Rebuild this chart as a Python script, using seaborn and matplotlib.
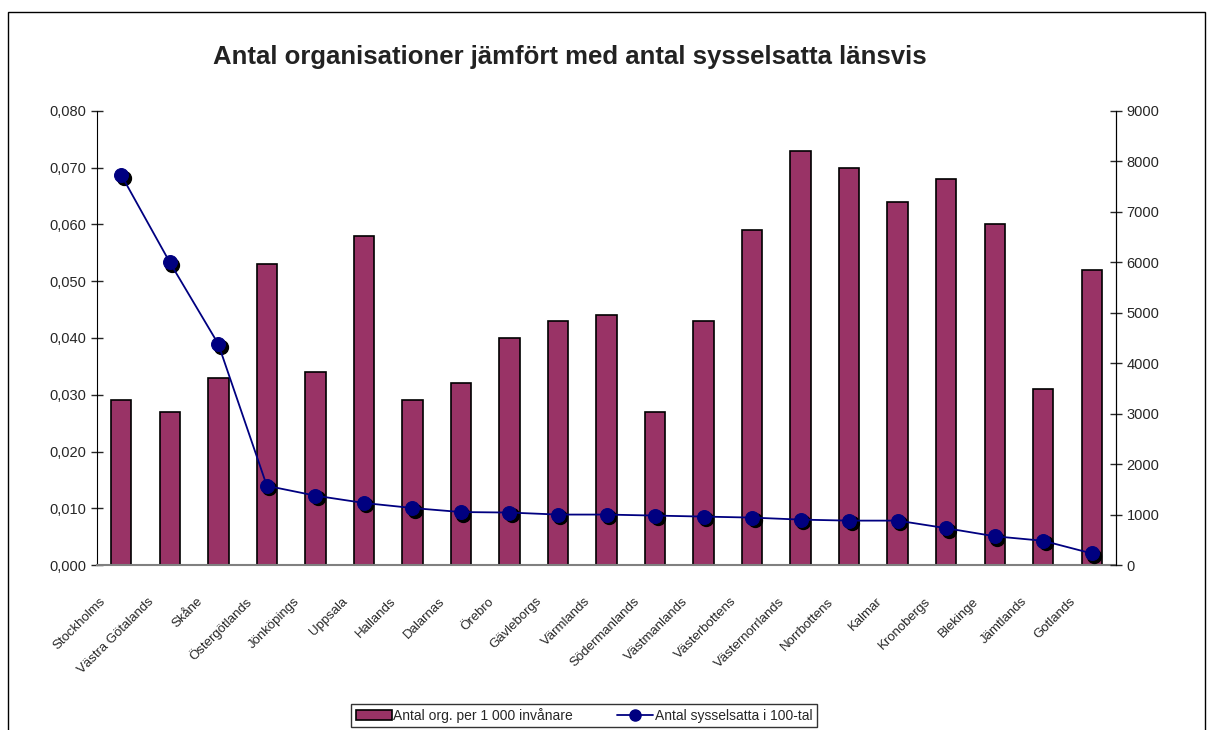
import matplotlib
matplotlib.use('Agg')
import matplotlib.pyplot as plt
import matplotlib.transforms as mtransforms
from matplotlib.lines import Line2D
from matplotlib.patches import Patch, Rectangle
from matplotlib.ticker import FixedLocator, FuncFormatter
import numpy as np
import pandas as pd
import seaborn as sns

LAN = ['Stockholms', 'Västra Götalands', 'Skåne', 'Östergötlands', 'Jönköpings',
       'Uppsala', 'Hallands', 'Dalarnas', 'Örebro', 'Gävleborgs', 'Värmlands',
       'Södermanlands', 'Västmanlands', 'Västerbottens', 'Västernorrlands',
       'Norrbottens', 'Kalmar', 'Kronobergs', 'Blekinge', 'Jämtlands', 'Gotlands']
ORG_PER_1000 = [0.029, 0.027, 0.033, 0.053, 0.034, 0.058, 0.029, 0.032, 0.040,
                0.043, 0.044, 0.027, 0.043, 0.059, 0.073, 0.070, 0.064, 0.068,
                0.060, 0.031, 0.052]
SYSSELSATTA = [7730, 6000, 4380, 1570, 1375, 1230, 1130, 1050, 1040, 1000, 1000,
               980, 960, 940, 900, 880, 880, 730, 570, 480, 230]
LEFT_TICKS = [0.0, 0.01, 0.02, 0.03, 0.04, 0.05, 0.06, 0.07, 0.08]
RIGHT_TICKS = list(range(0, 9001, 1000))

BAR_COLOR = '#993366'
LINE_COLOR = '#000080'

sns.set_style('white')
plt.rcParams['font.family'] = ['Liberation Sans', 'DejaVu Sans']

df = pd.DataFrame({'lan': LAN, 'org': ORG_PER_1000, 'syss': SYSSELSATTA})
df['pos'] = np.arange(len(df))

fig = plt.figure(figsize=(12.14, 7.30), dpi=100)
ax = fig.add_axes([0.0799, 0.226, 0.8394, 0.622])

sns.barplot(data=df, x='lan', y='org', order=LAN, color=BAR_COLOR,
            edgecolor='black', linewidth=1.2, width=0.42, saturation=1, ax=ax)

ax.set_ylim(0, 0.08)
ax.set_xlim(-0.5, len(LAN) - 0.5)
ax.yaxis.set_major_locator(FixedLocator(LEFT_TICKS))
ax.yaxis.set_major_formatter(FuncFormatter(lambda v, p: f'{v:.3f}'.replace('.', ',')))
ax.tick_params(axis='y', direction='inout', length=8, width=1, labelsize=10.5, left=True)
ax.set_xlabel('')
ax.set_ylabel('')

# ticks on category boundaries, labels at centres (shifted down-left like Excel)
ax.set_xticks(np.arange(len(LAN)))
ax.set_xticklabels(LAN, rotation=45, ha='right', rotation_mode='anchor',
                   fontsize=9.5, family=['Liberation Sans Narrow', 'Liberation Sans'])
ax.tick_params(axis='x', length=0, pad=6)
shift = mtransforms.ScaledTranslation(-0.22, -0.22, fig.dpi_scale_trans)
for lbl in ax.get_xticklabels():
    lbl.set_transform(lbl.get_transform() + shift)
ax.set_xticks(np.arange(len(LAN) - 1) + 0.5, minor=True)
ax.tick_params(axis='x', which='minor', direction='out', length=7, width=1, color='#555555')

ax.spines['top'].set_visible(False)
ax.spines['left'].set_color('black')
ax.spines['right'].set_color('black')
ax.spines['bottom'].set_color('#808080')
ax.spines['bottom'].set_linewidth(1.5)

ax2 = ax.twinx()
shadow = mtransforms.offset_copy(ax2.transData, fig=fig, x=2.5, y=-2.5, units='dots')
ax2.plot(df['pos'], df['syss'], linestyle='none', marker='o', markersize=10,
         color='black', transform=shadow, zorder=2)
sns.lineplot(data=df, x='pos', y='syss', color=LINE_COLOR, linewidth=1.3,
             marker='o', markersize=10, markeredgecolor=LINE_COLOR, ax=ax2, zorder=3)
ax2.set_ylim(0, 9000)
ax2.yaxis.set_major_locator(FixedLocator(RIGHT_TICKS))
ax2.tick_params(axis='y', direction='inout', length=8, width=1, labelsize=10.5, right=True)
ax2.set_xlabel('')
ax2.set_ylabel('')
ax2.spines['top'].set_visible(False)
ax2.spines['bottom'].set_visible(False)
ax2.spines['left'].set_visible(False)
ax2.spines['right'].set_color('black')
ax2.grid(False)
ax.grid(False)

fig.text(0.4695, 0.922, 'Antal organisationer jämfört med antal sysselsatta länsvis',
         ha='center', va='center', fontsize=18.5, fontweight='bold', color='#222222')

handles = [Patch(facecolor=BAR_COLOR, edgecolor='black', linewidth=1.2),
           Line2D([], [], color=LINE_COLOR, marker='o', markersize=8, linewidth=1.3)]
labels = ['Antal org. per 1 000 invånare', 'Antal sysselsatta i 100-tal']
leg = fig.legend(handles, labels, loc='lower center', bbox_to_anchor=(0.481, 0.004),
                 borderaxespad=0, ncol=2, fontsize=10, frameon=True, fancybox=False,
                 borderpad=0.3, handlelength=2.6, handletextpad=0.1, columnspacing=3.2)
leg.get_frame().set_edgecolor('black')
leg.get_frame().set_linewidth(1)

# outer chart border
fig.patches.append(Rectangle((8 / 1214, -0.05), 1197 / 1214, 1.05 - 12 / 730,
                             transform=fig.transFigure, fill=False,
                             edgecolor='black', linewidth=1))

fig.savefig('out.png', dpi=100)
